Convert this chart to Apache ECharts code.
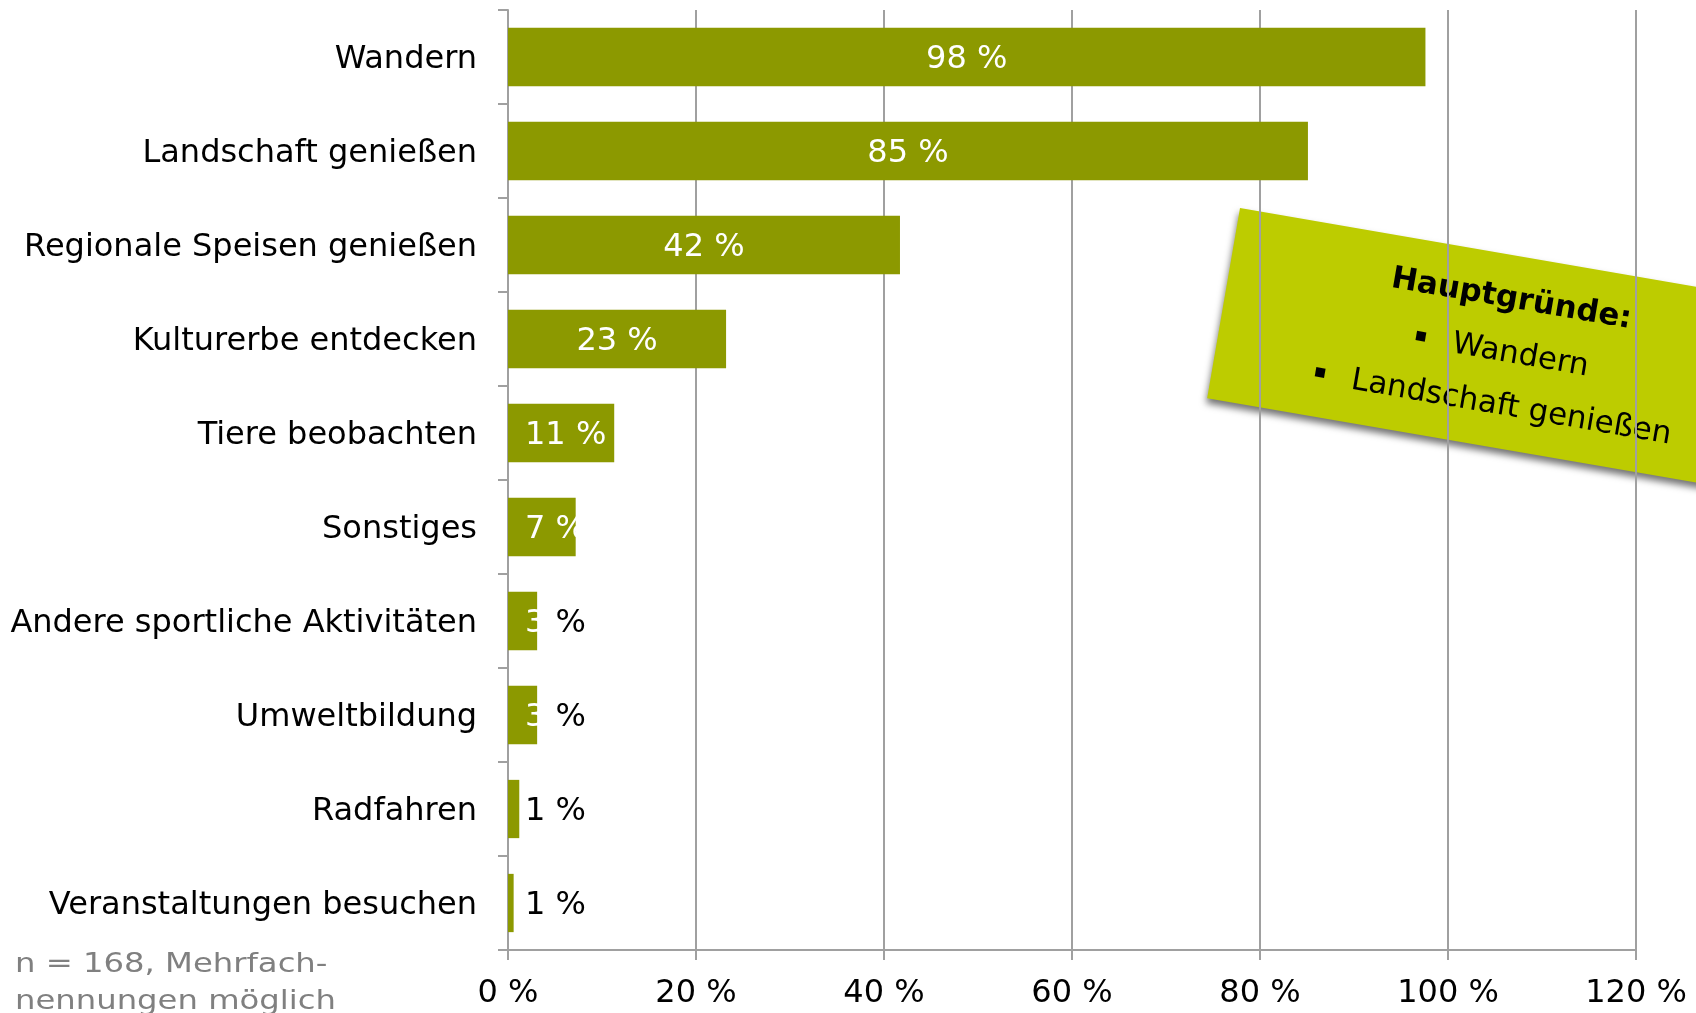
<!DOCTYPE html>
<html>
<head>
<meta charset="utf-8">
<script src="https://cdn.jsdelivr.net/npm/echarts@6/dist/echarts.min.js"></script>
<style>
html, body { margin: 0; padding: 0; background: #fff; }
#main { width: 1696px; height: 1013px; }
</style>
</head>
<body>
<div id="main"></div>
<script>
// Kategorien (von oben nach unten)
var categories = ['Wandern', 'Landschaft genießen', 'Regionale Speisen genießen', 'Kulturerbe entdecken',
    'Tiere beobachten', 'Sonstiges', 'Andere sportliche Aktivitäten', 'Umweltbildung', 'Radfahren',
    'Veranstaltungen besuchen'];
// Anteile in %
var shares = [97.6, 85.1, 41.7, 23.2, 11.3, 7.2, 3.1, 3.1, 1.2, 0.6];
var xTicks = [0, 20, 40, 60, 80, 100, 120];
var boxTitle = 'Hauptgründe:';
var boxItems = ['Wandern', 'Landschaft genießen'];
var note = ['n = 168, Mehrfach-', 'nennungen möglich'];

var FONT = 'DejaVu Sans';
var myChart = echarts.init(document.getElementById('main'));

var barData = shares.map(function (v) {
    var item = { value: v };
    // kleine Balken: Beschriftung links statt mittig
    if (v < 15) {
        item.label = { position: 'insideLeft', distance: 17 };
    }
    return item;
});

var bulletRich = {
    b: { fontFamily: FONT, fontSize: 19, color: '#000', verticalAlign: 'middle', padding: [0, 6, 5, 0] },
    t: { fontFamily: FONT, fontSize: 31, color: '#000', verticalAlign: 'middle' }
};

var option = {
    animation: false,
    grid: { left: 508, right: 60, top: 10, bottom: 63 },
    xAxis: {
        type: 'value',
        min: xTicks[0],
        max: xTicks[xTicks.length - 1],
        interval: 20,
        axisLine: { show: true, lineStyle: { color: '#a0a0a0', width: 2 } },
        axisTick: { show: true, length: 10, lineStyle: { color: '#a0a0a0', width: 2 } },
        splitLine: { show: true, lineStyle: { color: '#a0a0a0', width: 2 } },
        axisLabel: {
            margin: 28,
            color: '#000',
            fontFamily: FONT,
            fontSize: 32,
            formatter: '{value} %'
        }
    },
    yAxis: {
        type: 'category',
        inverse: true,
        data: categories,
        axisLine: { show: true, lineStyle: { color: '#a0a0a0', width: 2 } },
        axisTick: { show: true, length: 10, lineStyle: { color: '#a0a0a0', width: 2 } },
        axisLabel: {
            margin: 31,
            color: '#000',
            fontFamily: FONT,
            fontSize: 32,
            formatter: '{a|{value}}',
            rich: {
                a: { fontFamily: FONT, fontSize: 32, color: '#000', padding: [6, 0, 0, 0] }
            }
        }
    },
    series: [
        {
            type: 'bar',
            data: barData,
            barCategoryGap: '38%',
            itemStyle: { color: '#8c9900' },
            label: {
                show: true,
                position: 'inside',
                offset: [0, 3],
                fontFamily: FONT,
                fontSize: 32,
                formatter: function (p) {
                    var r = Math.round(p.value);
                    if (p.value < 2) return '{k|' + r + ' %}';
                    if (p.value < 5) return '{w|' + r + '}{k| %}';
                    return '{w|' + r + ' %}';
                },
                rich: {
                    w: { color: '#fff', fontFamily: FONT, fontSize: 32 },
                    k: { color: '#000', fontFamily: FONT, fontSize: 32 }
                }
            }
        }
    ],
    graphic: [
        {
            type: 'group',
            x: 1240,
            y: 208,
            rotation: -9.8 * Math.PI / 180,
            children: [
                {
                    type: 'rect',
                    shape: { x: 0, y: 0, width: 620, height: 193 },
                    style: {
                        fill: '#bdcc00',
                        shadowColor: 'rgba(0,0,0,0.55)',
                        shadowBlur: 7,
                        shadowOffsetX: -1,
                        shadowOffsetY: 5
                    }
                },
                {
                    type: 'text',
                    x: 283, y: 44,
                    style: { text: boxTitle, font: 'bold 31px "DejaVu Sans"', fill: '#000', align: 'center', verticalAlign: 'middle' }
                },
                {
                    type: 'text',
                    x: 282, y: 98,
                    style: { text: '{b|▪}{t|  ' + boxItems[0] + '}', rich: bulletRich, align: 'center', verticalAlign: 'middle' }
                },
                {
                    type: 'text',
                    x: 282, y: 151,
                    style: { text: '{b|▪}{t|  ' + boxItems[1] + '}', rich: bulletRich, align: 'center', verticalAlign: 'middle' }
                }
            ]
        },
        {
            type: 'text',
            x: 15, y: 965,
            scaleX: 1.195,
            style: { text: note[0], font: '27px "DejaVu Sans"', fill: '#808080', verticalAlign: 'middle' }
        },
        {
            type: 'text',
            x: 15, y: 1002,
            scaleX: 1.195,
            style: { text: note[1], font: '27px "DejaVu Sans"', fill: '#808080', verticalAlign: 'middle' }
        }
    ]
};

myChart.setOption(option);
</script>
</body>
</html>
